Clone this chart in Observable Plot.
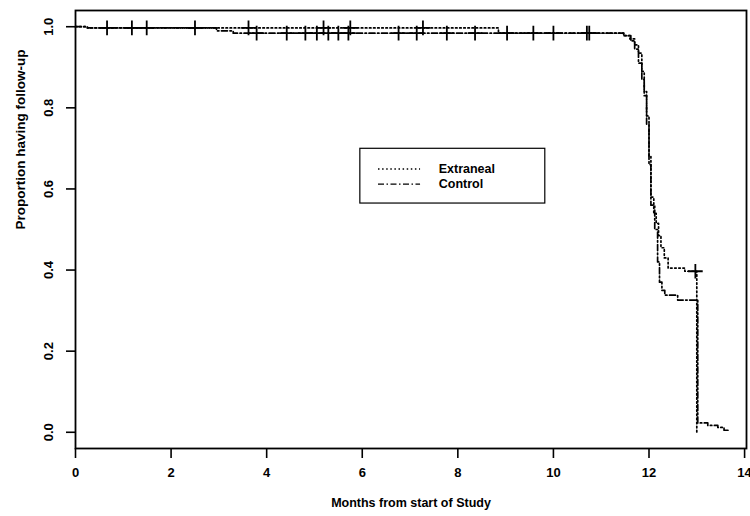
<!DOCTYPE html>
<html>
<head>
<meta charset="utf-8">
<script src="https://cdn.jsdelivr.net/npm/d3@7"></script>
<script src="https://cdn.jsdelivr.net/npm/@observablehq/plot@0.6"></script>
<style>
  html, body { margin: 0; padding: 0; background: #fff; }
  #chart { width: 750px; height: 516px; }
</style>
</head>
<body>
<div id="chart"></div>
<script>
// Kaplan-Meier style step curves (time in months, proportion having follow-up)
const extranealTime = [0, 0.25, 8.85, 11.47, 11.6, 11.7, 11.78, 11.85, 11.9, 11.95, 12.0, 12.04, 12.1, 12.15, 12.2, 12.25, 12.32, 12.4, 12.75, 13.0];
const extranealSurv = [1.0, 0.997, 0.984, 0.978, 0.97, 0.955, 0.935, 0.89, 0.84, 0.78, 0.68, 0.58, 0.54, 0.515, 0.485, 0.455, 0.43, 0.405, 0.397, 0.0];

const controlTime = [0, 0.25, 2.95, 3.3, 11.47, 11.62, 11.7, 11.78, 11.85, 11.9, 11.95, 12.0, 12.04, 12.12, 12.18, 12.22, 12.27, 12.33, 12.6, 13.02, 13.23, 13.44, 13.57, 13.7];
const controlSurv = [1.0, 0.997, 0.99, 0.984, 0.978, 0.965, 0.945, 0.91, 0.87, 0.83, 0.76, 0.66, 0.56, 0.5, 0.42, 0.37, 0.35, 0.338, 0.326, 0.023, 0.017, 0.012, 0.005, 0.005];

// censoring marks (+)
const extranealCensTime = [0.66, 1.49, 3.62, 5.19, 5.75, 7.27, 10.7, 12.97];
const extranealCensSurv = [0.997, 0.997, 0.997, 0.997, 0.997, 0.997, 0.984, 0.397];
const controlCensTime = [1.18, 2.5, 3.79, 4.42, 4.81, 5.05, 5.29, 5.5, 5.71, 6.76, 7.14, 7.77, 8.36, 9.03, 9.58, 10.0, 10.75];
const controlCensSurv = [0.997, 0.997, 0.984, 0.984, 0.984, 0.984, 0.984, 0.984, 0.984, 0.984, 0.984, 0.984, 0.984, 0.984, 0.984, 0.984, 0.984];

const xTicks = [0, 2, 4, 6, 8, 10, 12, 14];
const yTicks = [0, 0.2, 0.4, 0.6, 0.8, 1.0];

const seriesNames = ["Extraneal", "Control"];
const seriesDash = ["1.5,2.6", "6,2.5,1.5,2.5"];

const xLabel = "Months from start of Study";
const yLabel = "Proportion having follow-up";

const toRows = (ts, ss) => ts.map((t, i) => ({t, s: ss[i]}));
const ext = toRows(extranealTime, extranealSurv);
const ctl = toRows(controlTime, controlSurv);
const extC = toRows(extranealCensTime, extranealCensSurv);
const ctlC = toRows(controlCensTime, controlCensSurv);

// legend placement (in data units, like R's legend())
const legendBox = {x1: 5.96, x2: 9.83, y1: 0.564, y2: 0.699};
const legendRows = seriesNames.map((name, i) => ({
  name, dash: seriesDash[i], y: 0.649 - i * 0.037
}));

const font = "'Liberation Sans', Arial, Helvetica, sans-serif";

const chart = Plot.plot({
  width: 750,
  height: 516,
  marginLeft: 75,
  marginRight: 4,
  marginTop: 10,
  marginBottom: 68,
  style: {fontFamily: font, background: "#fff", color: "black"},
  x: {domain: [0, 14.04], axis: null},
  y: {domain: [-0.04, 1.04], axis: null},
  marks: [
    Plot.frame({stroke: "black", strokeWidth: 1.8}),
    Plot.axisX({ticks: xTicks, tickSize: 10, tickPadding: 9, strokeWidth: 1.6,
      fontSize: 13, fontWeight: "bold", tickFormat: d => d, label: null}),
    Plot.axisY({ticks: yTicks, tickSize: 9, tickPadding: 14, tickRotate: -90, strokeWidth: 1.6,
      fontSize: 13, fontWeight: "bold", tickFormat: d3.format(".1f"), label: null}),
    Plot.text([xLabel], {frameAnchor: "bottom", dy: 58, text: d => d, fontSize: 12.5, fontWeight: "bold", fill: "black"}),
    Plot.text([yLabel], {frameAnchor: "left", dx: -55, rotate: -90, text: d => d, fontSize: 13.5, fontWeight: "bold", fill: "black"}),
    Plot.line(ext, {x: "t", y: "s", curve: "step-after", stroke: "black", strokeWidth: 1.7, strokeDasharray: seriesDash[0]}),
    Plot.line(ctl, {x: "t", y: "s", curve: "step-after", stroke: "black", strokeWidth: 1.7, strokeDasharray: seriesDash[1]}),
    Plot.dot(extC, {x: "t", y: "s", symbol: "plus", r: 4.8, stroke: "black", strokeWidth: 1.8}),
    Plot.dot(ctlC, {x: "t", y: "s", symbol: "plus", r: 4.8, stroke: "black", strokeWidth: 1.8}),
    // legend
    Plot.rect([legendBox], {x1: "x1", x2: "x2", y1: "y1", y2: "y2", fill: "white", stroke: "black", strokeWidth: 1.2}),
    ...legendRows.map(r => Plot.ruleY([r], {y: "y", x1: 6.34, x2: 7.22, stroke: "black", strokeWidth: 1.4, strokeDasharray: r.dash})),
    Plot.text(legendRows, {x: 7.6, y: "y", text: "name", textAnchor: "start", fontSize: 12.5, fontWeight: "bold", fill: "black"})
  ]
});

document.getElementById("chart").appendChild(chart);
</script>
</body>
</html>
